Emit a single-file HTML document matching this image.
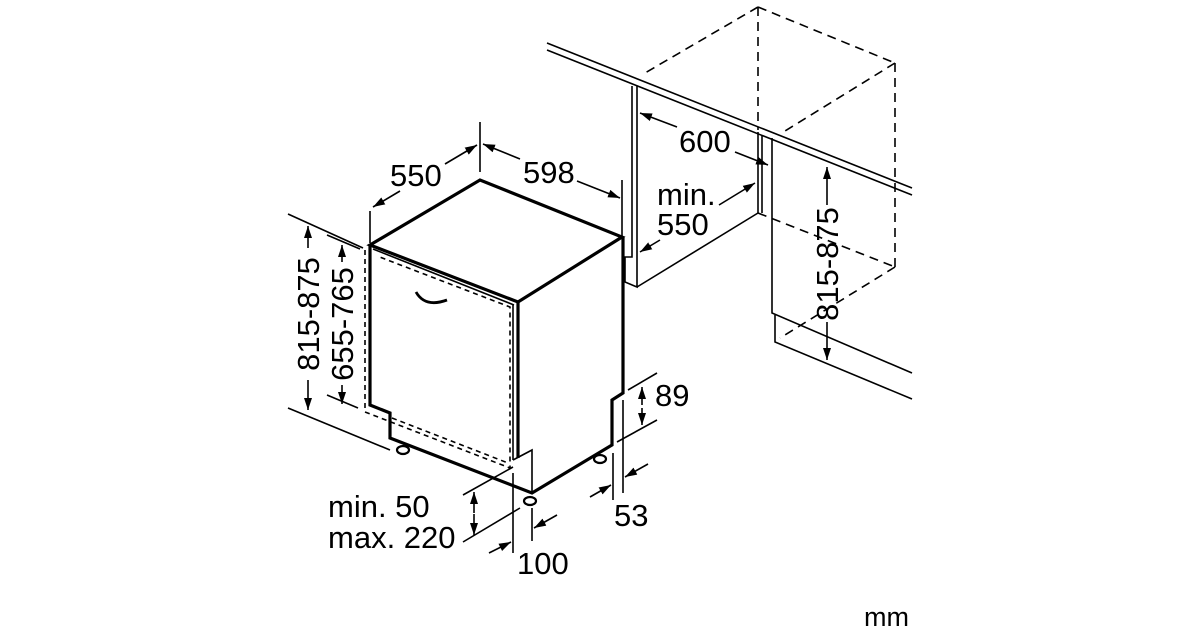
<!DOCTYPE html>
<html><head><meta charset="utf-8"><style>
html,body{margin:0;padding:0;background:#fff;}
svg{display:block;}
text{font-family:"Liberation Sans",Arial,sans-serif;font-size:31px;fill:#000;}
</style></head><body>
<svg width="1200" height="630" viewBox="0 0 1200 630" xmlns="http://www.w3.org/2000/svg">
<defs>
<marker id="a" viewBox="0 0 12 10" refX="12" refY="5" markerWidth="12" markerHeight="10" orient="auto-start-reverse" markerUnits="userSpaceOnUse">
<path d="M0,1 L12,5 L0,9 Z" fill="#000"/></marker>
</defs>
<g fill="none" stroke="#000" stroke-width="1.6">
<line x1="547" y1="43" x2="912" y2="188"/>
<line x1="547" y1="50" x2="912" y2="195"/>
<polyline points="632,86 632,257 625,257 625,282 637,287 637,86"/>
<line x1="637" y1="287" x2="758" y2="213"/>
<line x1="758" y1="132" x2="758" y2="213"/>
<polyline points="772,138 772,313 912,373"/>
<polyline points="775,315 775,342 912,399"/>
<line x1="762" y1="135" x2="762" y2="213"/>
</g>
<g fill="none" stroke="#000" stroke-width="1.6" stroke-dasharray="9,6">
<line x1="758" y1="7" x2="645" y2="73"/>
<line x1="758" y1="7" x2="895" y2="63"/>
<line x1="758" y1="7" x2="758" y2="130"/>
<line x1="895" y1="63" x2="895" y2="267"/>
<line x1="895" y1="63" x2="785" y2="131"/>
<line x1="758" y1="213" x2="895" y2="267"/>
<line x1="895" y1="267" x2="780" y2="338"/>
</g>
<g fill="none" stroke="#000" stroke-width="3.2" stroke-linejoin="miter">
<polygon points="370,245 480,180 622,237 518,302"/>
<polyline points="370,245 370,405 390,413 390,438 532,493 612,445 612,400 623,393 623,237"/>
<line x1="518" y1="302" x2="518" y2="458"/>
</g>
<g fill="none" stroke="#000" stroke-width="1.6">
<line x1="373" y1="249" x2="514" y2="305"/>
<line x1="513" y1="305" x2="513" y2="460"/>
<polyline points="513,460 532,450 532,493"/>
<path d="M416,292 Q425,308 447,300" stroke-width="2.8"/>
</g>
<g fill="none" stroke="#000" stroke-width="1.6" stroke-dasharray="5,4">
<polyline points="365,250 365,412 510,468 510,307 377,256"/>
<line x1="392" y1="418" x2="508" y2="463"/>
</g>
<g fill="#fff" stroke="#000" stroke-width="2.2">
<ellipse cx="403" cy="450" rx="6" ry="4"/>
<ellipse cx="530" cy="501" rx="6" ry="4"/>
<ellipse cx="600" cy="459" rx="6" ry="4"/>
</g>
<g fill="none" stroke="#000" stroke-width="1.6">
<line x1="288" y1="214" x2="363" y2="248"/>
<line x1="288" y1="408" x2="390" y2="450"/>
<line x1="308" y1="248" x2="308" y2="226" marker-end="url(#a)"/>
<line x1="308" y1="380" x2="308" y2="410" marker-end="url(#a)"/>
<line x1="327" y1="235" x2="360" y2="249"/>
<line x1="327" y1="395" x2="358" y2="408"/>
<line x1="342" y1="262" x2="342" y2="245" marker-end="url(#a)"/>
<line x1="342" y1="385" x2="342" y2="404" marker-end="url(#a)"/>
<line x1="370" y1="211" x2="370" y2="243"/>
<line x1="480" y1="122" x2="480" y2="172"/>
<line x1="400" y1="191" x2="373" y2="207" marker-end="url(#a)"/>
<line x1="445" y1="164" x2="477" y2="145" marker-end="url(#a)"/>
<line x1="622" y1="180" x2="622" y2="236"/>
<line x1="520" y1="159" x2="483" y2="144" marker-end="url(#a)"/>
<line x1="577" y1="181" x2="620" y2="198" marker-end="url(#a)"/>
<line x1="677" y1="127" x2="640" y2="113" marker-end="url(#a)"/>
<line x1="735" y1="152" x2="768" y2="165" marker-end="url(#a)"/>
<line x1="719" y1="205" x2="755" y2="183" marker-end="url(#a)"/>
<line x1="660" y1="240" x2="640" y2="252" marker-end="url(#a)"/>
<line x1="827" y1="205" x2="827" y2="167" marker-end="url(#a)"/>
<line x1="827" y1="322" x2="827" y2="360" marker-end="url(#a)"/>
<line x1="628" y1="390" x2="657" y2="373"/>
<line x1="617" y1="442" x2="657" y2="420"/>
<line x1="642" y1="405" x2="642" y2="387" marker-end="url(#a)"/>
<line x1="642" y1="408" x2="642" y2="425" marker-end="url(#a)"/>
<line x1="613" y1="453" x2="613" y2="500"/>
<line x1="623" y1="400" x2="623" y2="493"/>
<line x1="590" y1="497" x2="611" y2="485" marker-end="url(#a)"/>
<line x1="648" y1="464" x2="625" y2="477" marker-end="url(#a)"/>
<line x1="463" y1="495" x2="513" y2="467"/>
<line x1="463" y1="542" x2="520" y2="508"/>
<line x1="474" y1="513" x2="474" y2="492" marker-end="url(#a)"/>
<line x1="474" y1="514" x2="474" y2="535" marker-end="url(#a)"/>
<line x1="513" y1="473" x2="513" y2="553"/>
<line x1="532" y1="508" x2="532" y2="541"/>
<line x1="489" y1="553" x2="511" y2="542" marker-end="url(#a)"/>
<line x1="557" y1="515" x2="534" y2="528" marker-end="url(#a)"/>
</g>
<text x="390" y="186">550</text>
<text x="523" y="183">598</text>
<text x="679" y="152">600</text>
<text x="657" y="205">min.</text>
<text x="657" y="235">550</text>
<text x="655" y="406">89</text>
<text x="614" y="526">53</text>
<text x="517" y="574">100</text>
<text x="328" y="517">min. 50</text>
<text x="328" y="548">max. 220</text>
<text x="864" y="626" style="font-size:27px">mm</text>
<text transform="translate(319,314) rotate(-90)" text-anchor="middle">815-875</text>
<text transform="translate(353,324) rotate(-90)" text-anchor="middle">655-765</text>
<text transform="translate(838,264) rotate(-90)" text-anchor="middle">815-875</text>
</svg>
</body></html>
